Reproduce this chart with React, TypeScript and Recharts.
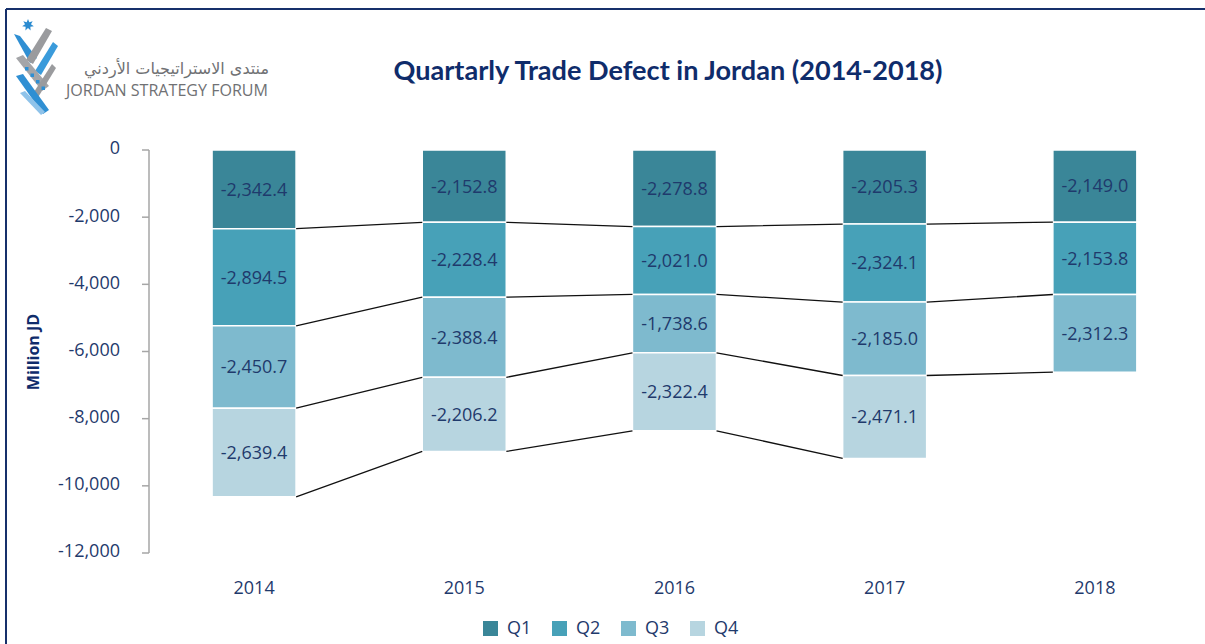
import React from 'react';
import { ComposedChart, Bar, Line, XAxis, YAxis, LabelList, Legend } from 'recharts';

const years = ['2014', '2015', '2016', '2017', '2018'];
const q1 = [-2342.4, -2152.8, -2278.8, -2205.3, -2149.0];
const q2 = [-2894.5, -2228.4, -2021.0, -2324.1, -2153.8];
const q3 = [-2450.7, -2388.4, -1738.6, -2185.0, -2312.3];
const q4: (number | null)[] = [-2639.4, -2206.2, -2322.4, -2471.1, null];
const yTicks = [0, -2000, -4000, -6000, -8000, -10000, -12000];
const seriesNames = ['Q1', 'Q2', 'Q3', 'Q4'];
const colors = ['#3A8698', '#47A1B8', '#7EBACE', '#B7D5E0'];

const NAVY = '#1F3A6C';
const GREY_AXIS = '#A6A6A6';
const FONT = "'Open Sans', 'Noto Sans', sans-serif";
const BAR_GAP_FRAC = 0.3; // barCategoryGap as fraction of band

const quarterValues = [q1, q2, q3, q4];

const chartData = years.map((year, i) => {
  const row: Record<string, any> = { year };
  seriesNames.forEach((n, k) => {
    const v = quarterValues[k][i];
    if (v !== null && v !== undefined) row[n] = v;
  });
  return row;
});

// cumulative boundaries for connector lines
const cumulative: (number | null)[][] = seriesNames.map((_, k) =>
  years.map((_, i) => {
    let s = 0;
    for (let j = 0; j <= k; j++) {
      const v = quarterValues[j][i];
      if (v === null || v === undefined) return null;
      s += v;
    }
    return s;
  })
);

const connectorData = cumulative.map((cum) => {
  const pts: { x: number; y: number | null }[] = [];
  for (let i = 0; i < cum.length - 1; i++) {
    const a = cum[i];
    const b = cum[i + 1];
    if (a !== null && b !== null) {
      pts.push({ x: i + 1 - BAR_GAP_FRAC, y: a });
      pts.push({ x: i + 1 + BAR_GAP_FRAC, y: b });
      pts.push({ x: i + 1.5, y: null });
    }
  }
  return pts;
});

const fmtNum = (v: number) =>
  v.toLocaleString('en-US', { maximumFractionDigits: 0 });
const fmtLabel = (v: any) =>
  typeof v === 'number'
    ? v.toLocaleString('en-US', { minimumFractionDigits: 1, maximumFractionDigits: 1 })
    : '';

const renderLegend = () => (
  <div
    style={{
      display: 'flex',
      alignItems: 'center',
      height: 24,
      paddingLeft: 483,
      fontFamily: FONT,
      fontSize: 18,
      color: NAVY,
    }}
  >
    {seriesNames.map((n, k) => (
      <div key={n} style={{ display: 'flex', alignItems: 'center', width: 69 }}>
        <span
          style={{
            display: 'inline-block',
            width: 15,
            height: 15,
            background: colors[k],
            marginRight: 9,
            marginTop: 3,
          }}
        />
        <span>{n}</span>
      </div>
    ))}
  </div>
);

const Logo = () => (
  <g>
    <polygon
      points={Array.from({ length: 14 })
        .map((_, i) => {
          const r = i % 2 === 0 ? 6 : 3;
          const a = (Math.PI * 2 * i) / 14 - Math.PI / 2;
          return `${28 + r * Math.cos(a)},${25 + r * Math.sin(a)}`;
        })
        .join(' ')}
      fill="#2B8BD0"
    />
    <polygon points="14,34 20,36 37,58 30,63" fill="#2F8FD3" />
    <polygon points="46,28 52,31 33,64 26,60" fill="#9A9B9E" />
    <polygon points="53,42 58,46 41,75 35,71" fill="#3A9BDB" />
    <polygon points="16,58 23,55 49,86 42,91" fill="#A4A5A8" />
    <polygon points="52,64 56,68 37,99 32,95" fill="#9A9B9E" />
    <polygon points="16,76 23,74 49,110 43,114" fill="#2F8FD3" />
    <polygon points="20,93 25,91 45,112 41,115" fill="#8FC3EA" />
    {[0, 1, 2, 3].map((i) => (
      <rect key={i} x={25 + i * 5.5} y={67 + i * 6.5} width={3.5} height={3.5} fill="#2F8FD3" />
    ))}
  </g>
);

export default function App() {
  return (
    <div
      style={{
        position: 'absolute',
        left: 0,
        top: 0,
        width: 1205,
        height: 644,
        background: '#fff',
        overflow: 'hidden',
      }}
    >
      <ComposedChart
        width={1205}
        height={644}
        data={chartData}
        margin={{ top: 150, right: 5, bottom: 5, left: 0 }}
        barCategoryGap="30%"
      >
        <XAxis
          xAxisId="cat"
          dataKey="year"
          axisLine={false}
          tickLine={false}
          tickSize={0}
          tickMargin={28}
          height={62}
          tick={{ fill: NAVY, fontSize: 18, fontFamily: FONT }}
        />
        <XAxis
          xAxisId="num"
          type="number"
          dataKey="x"
          domain={[0, 5]}
          ticks={[0, 1, 2, 3, 4, 5]}
          allowDataOverflow
          orientation="top"
          mirror
          height={0}
          tick={false}
          tickSize={7}
          axisLine={{ stroke: GREY_AXIS, strokeWidth: 2 }}
          tickLine={{ stroke: GREY_AXIS, strokeWidth: 1.5 }}
        />
        <YAxis
          width={149}
          domain={[-12000, 0]}
          ticks={yTicks}
          interval={0}
          tickFormatter={fmtNum}
          tickSize={7}
          tickMargin={22}
          axisLine={{ stroke: GREY_AXIS, strokeWidth: 1.5 }}
          tickLine={{ stroke: GREY_AXIS, strokeWidth: 1.5 }}
          tick={{ fill: NAVY, fontSize: 18, fontFamily: FONT, dy: -2 }}
          allowDataOverflow
        />
        {seriesNames.map((n, k) => (
          <Bar
            key={n}
            xAxisId="cat"
            dataKey={n}
            stackId="a"
            fill={colors[k]}
            stroke="#fff"
            strokeWidth={1.5}
            isAnimationActive={false}
          >
            <LabelList
              dataKey={n}
              position="center"
              formatter={fmtLabel}
              fill={NAVY}
              fontSize={18}
              fontFamily={FONT}
            />
          </Bar>
        ))}
        {connectorData.map((pts, k) => (
          <Line
            key={`c${k}`}
            xAxisId="num"
            data={pts}
            dataKey="y"
            type="linear"
            stroke="#111"
            strokeWidth={1.3}
            dot={false}
            activeDot={false}
            legendType="none"
            isAnimationActive={false}
          />
        ))}
        <Legend verticalAlign="bottom" height={24} content={renderLegend} />
      </ComposedChart>

      <svg
        width={1205}
        height={644}
        style={{ position: 'absolute', left: 0, top: 0, pointerEvents: 'none' }}
      >
        <line x1={6} y1={9} x2={1205} y2={9} stroke="#16306B" strokeWidth={2} />
        <line x1={6} y1={9} x2={6} y2={644} stroke="#16306B" strokeWidth={2} />
        <Logo />
        <text
          x={167}
          y={96}
          textAnchor="middle"
          fontFamily={FONT}
          fontSize={17}
          fill="#707174"
          textLength={202}
          lengthAdjust="spacingAndGlyphs"
        >
          JORDAN STRATEGY FORUM
        </text>
        <text
          x={668}
          y={80}
          textAnchor="middle"
          fontFamily="Lato, 'Open Sans', sans-serif"
          fontWeight={700}
          fontSize={26}
          fill="#0F2C6B"
          textLength={549}
          lengthAdjust="spacingAndGlyphs"
        >
          Quartarly Trade Defect in Jordan (2014-2018)
        </text>
        <text
          x={0}
          y={0}
          transform="translate(39,352) rotate(-90)"
          textAnchor="middle"
          fontFamily={FONT}
          fontWeight={700}
          fontSize={16}
          fill="#0F2C6B"
        >
          Million JD
        </text>
      </svg>
      <div
        dir="rtl"
        style={{
          position: 'absolute',
          left: 60,
          top: 57,
          width: 209,
          textAlign: 'right',
          fontFamily: "'DejaVu Sans', sans-serif",
          fontSize: 16,
          color: '#707174',
          whiteSpace: 'nowrap',
          lineHeight: '24px',
        }}
      >
        منتدى الاستراتيجيات الأردني
      </div>
    </div>
  );
}
